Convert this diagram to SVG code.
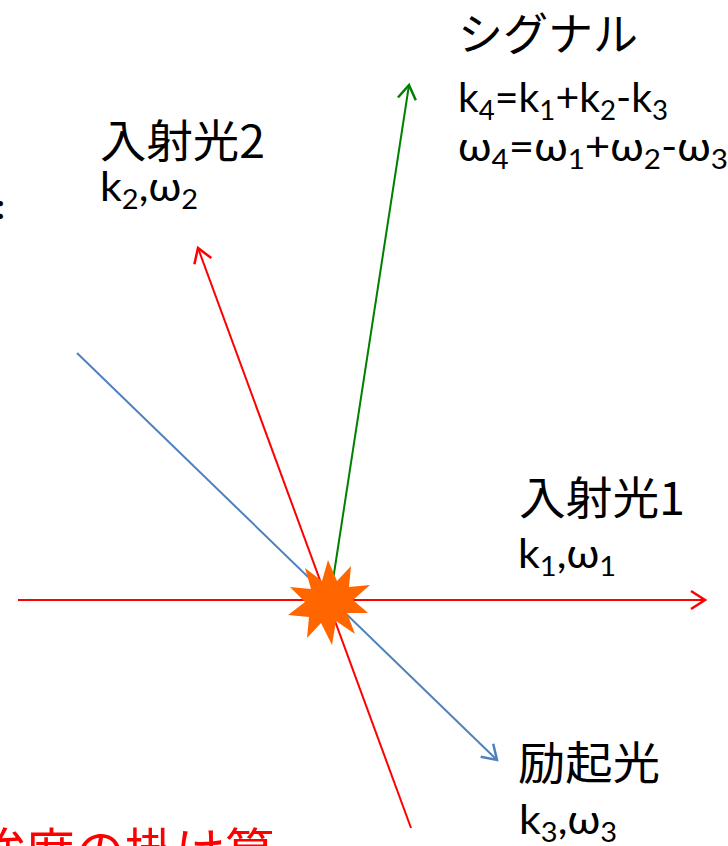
<svg xmlns="http://www.w3.org/2000/svg" width="728" height="846" viewBox="0 0 728 846">
<style>
.jp{font-family:"Noto Sans CJK JP","Noto Sans",sans-serif;font-size:45px;fill:#000}
.lt{font-family:Lato,"Noto Sans",sans-serif;font-size:40px;fill:#000}
.sb{font-size:27px}
.ln{fill:none;stroke-width:2}
</style>
<defs>
<marker id="ar" markerUnits="userSpaceOnUse" markerWidth="30" markerHeight="30" refX="0" refY="0" viewBox="-15 -15 30 30" orient="auto" overflow="visible"><path d="M-14,-9 L0,0 L-14,9" fill="none" stroke="#FF0000" stroke-width="2.5"/></marker>
<marker id="ag" markerUnits="userSpaceOnUse" markerWidth="30" markerHeight="30" refX="0" refY="0" viewBox="-15 -15 30 30" orient="auto" overflow="visible"><path d="M-14,-9 L0,0 L-14,9" fill="none" stroke="#008000" stroke-width="2.5"/></marker>
<marker id="ab" markerUnits="userSpaceOnUse" markerWidth="30" markerHeight="30" refX="0" refY="0" viewBox="-15 -15 30 30" orient="auto" overflow="visible"><path d="M-14,-9 L0,0 L-14,9" fill="none" stroke="#4F81BD" stroke-width="2.5"/></marker>
</defs>
<g id="connectors">
<line class="ln" x1="18" y1="600" x2="705" y2="600" stroke="#FF0000" marker-end="url(#ar)"/>
<line class="ln" x1="411" y1="828" x2="198" y2="248" stroke="#FF0000" marker-end="url(#ar)"/>
<line class="ln" x1="333" y1="580" x2="409" y2="85" stroke="#008000" marker-end="url(#ag)"/>
<line class="ln" x1="77" y1="353" x2="497" y2="760" stroke="#4F81BD" marker-end="url(#ab)"/>
</g>
<g id="burst">
<polygon fill="#FF6600" points="328,560 337,581 351,566 349,587 370,585 353,600 368,613 347,613 355,634 336,621 332,645 321,623 307,638 309,617 288,615 305,602 290,587 311,589 305,568 322,581"/>
</g>
<g id="signal">
<text class="jp" x="458" y="51">シグナル</text>
<text class="lt" x="458" y="112" textLength="210" lengthAdjust="spacingAndGlyphs">k<tspan class="sb" dy="8">4</tspan><tspan dy="-8">=k</tspan><tspan class="sb" dy="8">1</tspan><tspan dy="-8">+k</tspan><tspan class="sb" dy="8">2</tspan><tspan dy="-8">-k</tspan><tspan class="sb" dy="8">3</tspan></text>
<text class="lt" x="458" y="161" textLength="270" lengthAdjust="spacingAndGlyphs">ω<tspan class="sb" dy="8">4</tspan><tspan dy="-8">=ω</tspan><tspan class="sb" dy="8">1</tspan><tspan dy="-8">+ω</tspan><tspan class="sb" dy="8">2</tspan><tspan dy="-8">-ω</tspan><tspan class="sb" dy="8">3</tspan></text>
</g>
<g id="beam2">
<text class="jp" x="100" y="158" textLength="165" lengthAdjust="spacingAndGlyphs">入射光2</text>
<text class="lt" x="100" y="201" textLength="98" lengthAdjust="spacingAndGlyphs">k<tspan class="sb" dy="8">2</tspan><tspan dy="-8">,ω</tspan><tspan class="sb" dy="8">2</tspan></text>
</g>
<g id="beam1">
<text class="jp" x="519" y="515" textLength="166" lengthAdjust="spacingAndGlyphs">入射光1</text>
<text class="lt" x="518" y="568" textLength="98" lengthAdjust="spacingAndGlyphs">k<tspan class="sb" dy="8">1</tspan><tspan dy="-8">,ω</tspan><tspan class="sb" dy="8">1</tspan></text>
</g>
<g id="excite">
<text class="jp" x="518" y="780" font-size="46" textLength="142" lengthAdjust="spacingAndGlyphs">励起光</text>
<text class="lt" x="519" y="834" textLength="98" lengthAdjust="spacingAndGlyphs">k<tspan class="sb" dy="8">3</tspan><tspan dy="-8">,ω</tspan><tspan class="sb" dy="8">3</tspan></text>
</g>
<g id="notes">
<text x="-4" y="219" font-family="Lato,sans-serif" font-size="34" font-weight="bold" fill="#000">:</text>
<text x="-25" y="870" font-family="'Noto Sans CJK JP',sans-serif" font-size="50" fill="#FF0000">強度の掛け算</text>
</g>
</svg>
